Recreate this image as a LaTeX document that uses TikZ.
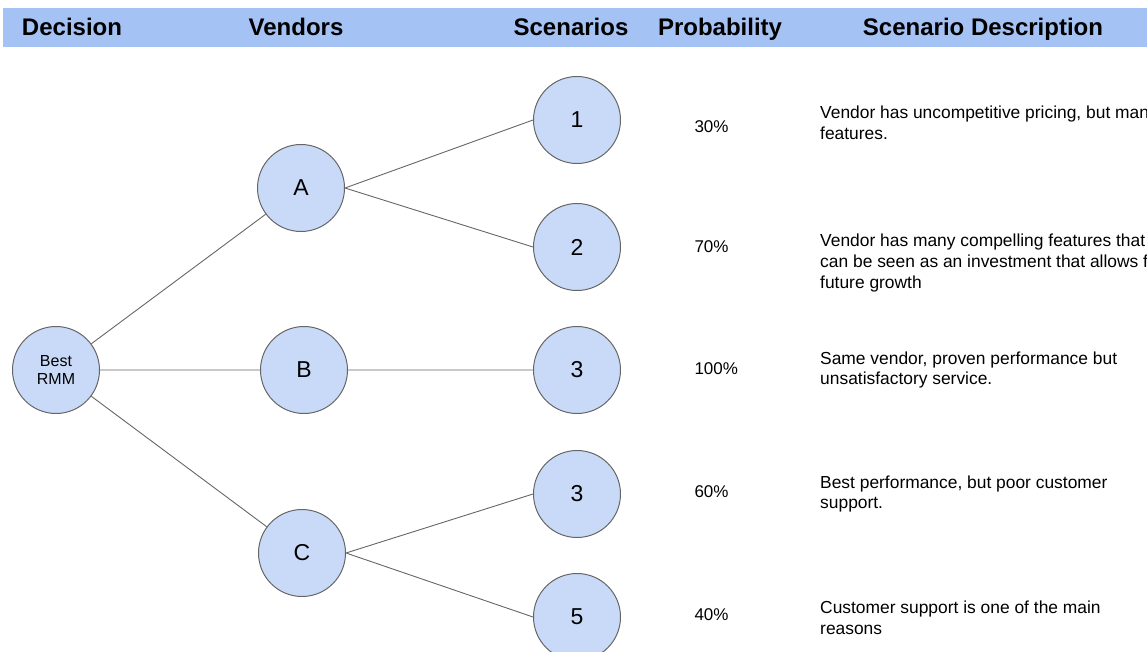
\documentclass[tikz,border=0pt]{standalone}
\usepackage{fontspec}
\setmainfont{Liberation Sans}
\usetikzlibrary{positioning,calc}
\definecolor{headblue}{HTML}{A4C2F4}
\definecolor{nodeblue}{HTML}{C9DAF8}
\definecolor{edgegray}{HTML}{666666}
\tikzset{
  state/.style={circle,draw=edgegray,line width=1pt,fill=nodeblue,minimum size=87pt,inner sep=0pt,font=\fontsize{23}{26}\selectfont},
  head/.style={anchor=base,font=\fontsize{24}{28}\selectfont\bfseries},
  prob/.style={anchor=west,font=\fontsize{17}{20.5}\selectfont},
  desc/.style={anchor=west,align=left,inner sep=0pt,font=\fontsize{17.4}{20.6}\selectfont},
  edge/.style={draw=edgegray,line width=0.9pt}
}

\begin{document}
\begin{tikzpicture}[x=1pt,y=-1pt]
  \useasboundingbox (0,0) rectangle (1147,652);
  \clip (0,0) rectangle (1147,652);
  \fill[headblue] (3,8) rectangle (1147,47);
  \node[head] (hdec) at (72,36) {Decision};
  \node[head] (hven) at (296,36) {Vendors};
  \node[head] (hsce) at (571,36) {Scenarios};
  \node[head] (hpro) at (720,36) {Probability};
  \node[head] (hdes) at (983,36) {Scenario Description};
  \node[state,font=\fontsize{16}{17.5}\selectfont,align=center] (best) at (56,370) {Best\\RMM};
  \node[state] (A) at (301,188) {A};
  \node[state] (B) at (304,370) {B};
  \node[state] (C) at (302,553) {C};
  \node[state] (s1) at (577,120) {1};
  \node[state] (s2) at (577,247) {2};
  \node[state] (s3) at (577,370) {3};
  \node[state] (s4) at (577,494) {3};
  \node[state] (s5) at (577,617) {5};
  \draw[edge] (best) -- (A) (best) -- (B) (best) -- (C);
  \draw[edge] (A.east) -- (s1.west) (A.east) -- (s2.west) (B) -- (s3);
  \draw[edge] (C.east) -- (s4.west) (C.east) -- (s5.west);
  \node[prob] (p1) at (691,127) {30\%};
  \node[prob] (p2) at (691,247) {70\%};
  \node[prob] (p3) at (691,369) {100\%};
  \node[prob] (p4) at (691,492) {60\%};
  \node[prob] (p5) at (691,615) {40\%};
  \node[desc] (d1) at (820,123) {Vendor has uncompetitive pricing, but many\\features.};
  \node[desc] (d2) at (820,263) {Vendor has many compelling features that\\can be seen as an investment that allows for\\future growth};
  \node[desc] (d3) at (820,370) {Same vendor, proven performance but\\unsatisfactory service.};
  \node[desc] (d4) at (820,494) {Best performance, but poor customer\\support.};
  \node[desc] (d5) at (820,618) {Customer support is one of the main\\reasons};
\end{tikzpicture}
\end{document}
